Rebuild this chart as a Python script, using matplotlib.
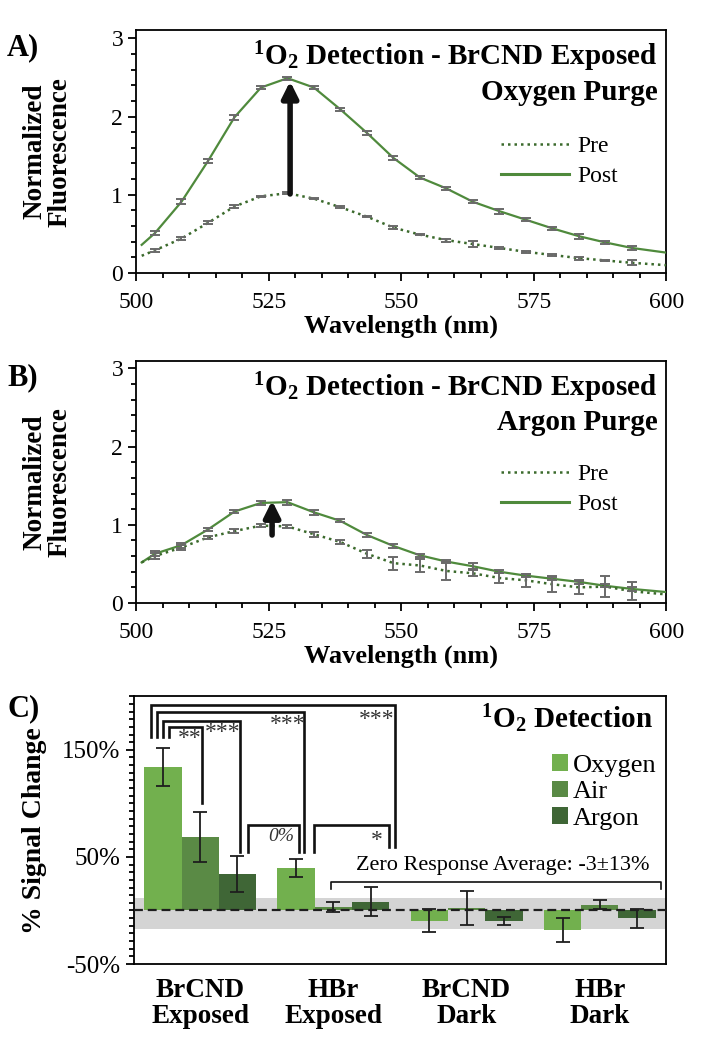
import numpy as np
import matplotlib
matplotlib.use("Agg")
import matplotlib.pyplot as plt
from matplotlib.ticker import MultipleLocator
from matplotlib.lines import Line2D

plt.rcParams['font.family'] = ['Liberation Serif', 'DejaVu Serif']
plt.rcParams['mathtext.fontset'] = 'custom'
plt.rcParams['mathtext.rm'] = 'Liberation Serif'
plt.rcParams['mathtext.bf'] = 'Liberation Serif:bold'
plt.rcParams['mathtext.it'] = 'Liberation Serif:italic'

# --- spectra (panels A and B) ---
wl_line = [501, 503.5, 508.5, 513.5, 518.5, 523.5, 528.5, 533.5, 538.5, 543.5, 548.5,
           553.5, 558.5, 563.5, 568.5, 573.5, 578.5, 583.5, 588.5, 593.5, 600]
wl_err = [503.5, 508.5, 513.5, 518.5, 523.5, 528.5, 533.5, 538.5, 543.5, 548.5,
          553.5, 558.5, 563.5, 568.5, 573.5, 578.5, 583.5, 588.5, 593.5]

a_post = [0.36, 0.51, 0.91, 1.43, 1.99, 2.37, 2.49, 2.37, 2.09, 1.79, 1.47,
          1.22, 1.08, 0.91, 0.79, 0.68, 0.57, 0.47, 0.39, 0.32, 0.26]
a_pre = [0.22, 0.29, 0.44, 0.64, 0.85, 0.98, 1.02, 0.95, 0.84, 0.72, 0.58,
         0.49, 0.42, 0.37, 0.32, 0.27, 0.23, 0.19, 0.16, 0.13, 0.10]
a_post_err = [0.03, 0.03, 0.03, 0.03, 0.02, 0.02, 0.02, 0.02, 0.02, 0.03,
              0.02, 0.02, 0.02, 0.03, 0.02, 0.02, 0.03, 0.02, 0.02]
a_pre_err = [0.02, 0.02, 0.02, 0.02, 0.01, 0.01, 0.01, 0.01, 0.01, 0.02,
             0.01, 0.02, 0.04, 0.01, 0.01, 0.01, 0.02, 0.01, 0.03]

b_post = [0.52, 0.63, 0.74, 0.94, 1.17, 1.28, 1.29, 1.16, 1.05, 0.87, 0.73,
          0.61, 0.53, 0.47, 0.40, 0.35, 0.31, 0.27, 0.22, 0.18, 0.14]
b_pre = [0.52, 0.60, 0.71, 0.84, 0.92, 0.99, 0.98, 0.88, 0.78, 0.63, 0.51,
         0.48, 0.41, 0.38, 0.32, 0.29, 0.24, 0.20, 0.21, 0.15, 0.11]
b_post_err = [0.03, 0.03, 0.02, 0.02, 0.02, 0.03, 0.03, 0.02, 0.02, 0.02,
              0.02, 0.02, 0.04, 0.02, 0.02, 0.02, 0.03, 0.02, 0.02]
b_pre_err = [0.04, 0.03, 0.02, 0.03, 0.02, 0.02, 0.03, 0.02, 0.05, 0.085,
             0.085, 0.11, 0.04, 0.06, 0.085, 0.10, 0.087, 0.13, 0.115]

# --- signal change (panel C) ---
categories = ['BrCND\nExposed', 'HBr\nExposed', 'BrCND\nDark', 'HBr\nDark']
gases = ['Oxygen', 'Air', 'Argon']
oxygen = [134, 39.5, -9.5, -18]
oxygen_err = [18, 8.5, 10.5, 11.3]
air = [68.5, 3, 2.5, 5.5]
air_err = [23.6, 4.5, 15.7, 4.5]
argon = [34, 8, -10, -7.5]
argon_err = [17, 13.6, 3.5, 9.3]
zero_avg = -3
band_lo, band_hi = -17, 11.5

POST_C = '#4f8a3c'
PRE_C = '#3b6a2c'
ERR_C = '#6a6a6a'
BAR_C = ['#72b04e', '#5a8a45', '#3f6636']

fig = plt.figure(figsize=(7.03, 10.5), dpi=100)


def spectrum_panel(rect, post, pre, post_err, pre_err, line2, arrow_x, arrow_y0, arrow_y1, letter, ly):
    ax = fig.add_axes(rect)
    ax.plot(wl_line, post, color=POST_C, lw=1.6, zorder=3)
    ax.plot(wl_line, pre, color=PRE_C, lw=1.8, ls=(0, (1, 1.6)), zorder=3)
    ax.errorbar(wl_err, [pre[wl_line.index(w)] for w in wl_err], yerr=pre_err,
                fmt='none', ecolor=ERR_C, elinewidth=1.4, capsize=3.5, capthick=1.4, zorder=4)
    ax.errorbar(wl_err, [post[wl_line.index(w)] for w in wl_err], yerr=post_err,
                fmt='none', ecolor=ERR_C, elinewidth=1.4, capsize=3.5, capthick=1.4, zorder=4)
    ax.annotate('', xy=(arrow_x, arrow_y1), xytext=(arrow_x, arrow_y0),
                arrowprops=dict(arrowstyle='-|>', color='#111111', lw=4, mutation_scale=24,
                                shrinkA=0, shrinkB=0), zorder=5)
    ax.set_xlim(500, 600)
    ax.set_ylim(0, 3.1)
    ax.set_xticks([500, 525, 550, 575, 600])
    ax.set_yticks([0, 1, 2, 3])
    ax.xaxis.set_minor_locator(MultipleLocator(5))
    ax.yaxis.set_minor_locator(MultipleLocator(0.2))
    ax.tick_params(which='major', length=6, width=1.3, labelsize=17, direction='out')
    ax.tick_params(which='minor', length=3.5, width=1.3, direction='out')
    ax.tick_params(axis='x', pad=8)
    for s in ax.spines.values():
        s.set_linewidth(1.3)
    ax.set_xlabel('Wavelength (nm)', fontsize=19, weight='bold', labelpad=1)
    ax.set_ylabel('Normalized\nFluorescence', fontsize=19.5, weight='bold', va='center',
                  linespacing=1.0)
    ax.yaxis.set_label_coords(-0.167, 0.5)
    ax.text(0.983, 0.89, r'$^{\mathbf{1}}$O$_{\mathbf{2}}$ Detection - BrCND Exposed',
            transform=ax.transAxes, ha='right', va='center', fontsize=21, weight='bold')
    ax.text(0.983, 0.745, line2, transform=ax.transAxes, ha='right', va='center',
            fontsize=21, weight='bold')
    handles = [Line2D([], [], color=PRE_C, lw=1.8, ls=(0, (1, 1.6))),
               Line2D([], [], color=POST_C, lw=2.2)]
    ax.legend(handles, ['Pre', 'Post'], loc='center left', bbox_to_anchor=(0.665, ly),
              frameon=False, fontsize=17, handlelength=2.9, handletextpad=0.35,
              labelspacing=0.35, borderpad=0)
    fig.text(0.01, rect[1] + rect[3] - 0.016, letter, fontsize=22, weight='bold',
             ha='left', va='center')
    return ax


spectrum_panel([0.194, 0.74, 0.754, 0.231], a_post, a_pre, a_post_err, a_pre_err,
               'Oxygen Purge', 529, 1.01, 2.45, 'A)', 0.46)
spectrum_panel([0.194, 0.4257, 0.754, 0.2308], b_post, b_pre, b_post_err, b_pre_err,
               'Argon Purge', 525.6, 0.87, 1.31, 'B)', 0.47)

# --- panel C ---
axC = fig.add_axes([0.19, 0.0819, 0.758, 0.255])
x = np.arange(len(categories))
w = 0.28
axC.axhspan(band_lo, band_hi, color='#d4d4d4', lw=0, zorder=0)
for i, (vals, errs) in enumerate([(oxygen, oxygen_err), (air, air_err), (argon, argon_err)]):
    axC.bar(x + (i - 1) * w, vals, width=w, color=BAR_C[i], yerr=errs, capsize=5,
            error_kw=dict(ecolor='#1e1e1e', elinewidth=1.3, capthick=1.3), zorder=2,
            label=gases[i])
axC.axhline(0, color='#1e1e1e', lw=1.6, ls=(0, (4, 2.2)), zorder=3)

# significance brackets (annotation layout, data coords)
br_left = [-0.366, -0.324, -0.279, -0.236, 0.362, 0.853]
br_right = [1.461, 0.780, 0.297, 0.010, 0.744, 1.420]
br_top = [192, 185.6, 176.6, 171, 79.6, 79.6]
br_left_end = [161.7, 161.7, 161.7, 161.7, 54.6, 54.6]
br_right_end = [59.5, 54.6, 54.6, 100.1, 54.6, 59.5]
for l, r, t, le, re in zip(br_left, br_right, br_top, br_left_end, br_right_end):
    axC.plot([l, l, r, r], [le, t, t, re], color='#111111', lw=1.9, zorder=4,
             solid_joinstyle='miter')

star_text = ['***', '***', '***', '**', '*']
star_x = [1.325, 0.658, 0.172, -0.078, 1.324]
star_y = [188, 183.3, 176, 170.7, 74.7]
for s, sx, sy in zip(star_text, star_x, star_y):
    axC.text(sx, sy, s, ha='center', va='top', fontsize=17, color='#333333')
axC.text(0.61, 68.8, '0%', ha='center', va='center', fontsize=14, style='italic', color='#333333')

# zero response bracket
axC.plot([0.981, 0.981, 3.457, 3.457], [20, 26.7, 26.7, 20], color='#111111', lw=1.2, zorder=4)
axC.text(2.272, 41.6, 'Zero Response Average: %d\u00b113%%' % zero_avg, ha='center',
         va='center', fontsize=16)

axC.text(0.974, 0.918, r'$^{\mathbf{1}}$O$_{\mathbf{2}}$ Detection', transform=axC.transAxes,
         ha='right', va='center', fontsize=21, weight='bold')
axC.legend(loc='center left', bbox_to_anchor=(0.76, 0.643), frameon=False, fontsize=19,
           handlelength=0.6, handleheight=0.6, handletextpad=0.2, labelspacing=0.15,
           borderpad=0)

axC.set_xlim(-0.5, 3.5)
axC.set_ylim(-50, 200)
axC.set_xticks(x)
axC.set_xticklabels(categories, fontsize=19.5, weight='bold', linespacing=1.05)
axC.set_yticks([-50, 50, 150])
axC.set_yticklabels(['-50%', '50%', '150%'])
axC.yaxis.set_minor_locator(MultipleLocator(100 / 14))
axC.tick_params(axis='x', length=0, pad=10)
axC.tick_params(axis='y', which='major', length=6, width=1.3, labelsize=18)
axC.tick_params(axis='y', which='minor', length=3.5, width=1.3)
for s in axC.spines.values():
    s.set_linewidth(1.3)
axC.set_ylabel('% Signal Change', fontsize=20, weight='bold', va='center')
axC.yaxis.set_label_coords(-0.185, 0.5)
fig.text(0.01, 0.337 - 0.012, 'C)', fontsize=22, weight='bold', ha='left', va='center')

fig.savefig('out.png', dpi=100)
